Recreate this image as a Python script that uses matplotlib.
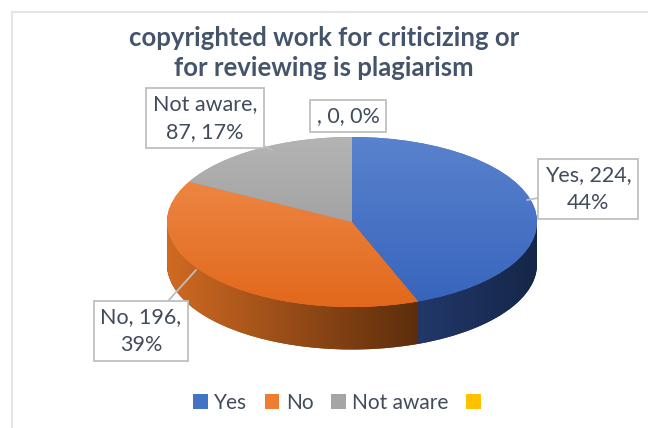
import matplotlib
matplotlib.use("Agg")
import matplotlib.pyplot as plt
import numpy as np
from matplotlib.patches import Patch, Polygon, Rectangle
from matplotlib.colors import to_rgb

# data
categories = ["Yes", "No", "Not aware", ""]
counts = [224, 196, 87, 0]
top_colors = ["#4472C4", "#ED7D31", "#A5A5A5", "#FFC000"]
side_colors = ["#1A2E57", "#8A4414", "#6E6E6E", "#A07800"]
title = "copyrighted work for criticizing or\nfor reviewing is plagiarism"

plt.rcParams['font.family'] = ['Lato', 'DejaVu Sans']
text_col = "#404B5C"

fig = plt.figure(figsize=(6.48, 4.28), dpi=100)
ax = fig.add_axes([0, 0, 1, 1])

# pie geometry (pixels): centre x=352, y=222 from top, rx=185, ry=85
px_x, px_y = 185.0, 85.0
depth = 0.5
n_layers = 40

# side layers
for k in range(n_layers, 0, -1):
    off = -depth * k / n_layers
    ax.pie(counts, colors=side_colors, startangle=90, counterclock=False,
           center=(0, off), radius=1, wedgeprops=dict(linewidth=0))

# side gradient overlays (front visible part only)
total = sum(counts)
angles = [90.0]
for c in counts:
    angles.append(angles[-1] - 360.0 * c / total)

side_grad = {0: ("#22386A", "#152648"), 1: ("#D06A22", "#5C2D0C")}
for i, (c0, c1) in side_grad.items():
    a0, a1 = angles[i], angles[i + 1]
    lo, hi = max(min(a0, a1), -180.0), min(max(a0, a1), 0.0)
    if hi <= lo:
        continue
    t = np.radians(np.linspace(lo, hi, 80))
    top = np.column_stack([np.cos(t), np.sin(t)])
    bot = np.column_stack([np.cos(t[::-1]), np.sin(t[::-1]) - depth])
    poly = Polygon(np.vstack([top, bot]), closed=True, transform=ax.transData,
                   facecolor="none", edgecolor="none")
    ax.add_patch(poly)
    x0, x1 = np.cos(t).min(), np.cos(t).max()
    grad = np.linspace(0, 1, 256)
    rgb = (np.outer(1 - grad, to_rgb(c0)) + np.outer(grad, to_rgb(c1)))[None, :, :]
    im = ax.imshow(rgb, extent=(x0, x1, -1 - depth, 0.1), aspect="auto", zorder=2)
    im.set_clip_path(poly)

# top face
wedges, _ = ax.pie(counts, colors=top_colors, startangle=90, counterclock=False,
                   center=(0, 0), radius=1, wedgeprops=dict(linewidth=0))
top_grad = [("#5A82CE", "#3764BC"), ("#F09050", "#E2681C"), ("#B4B4B4", "#939393"),
            ("#FFC000", "#FFC000")]
for w, (c0, c1) in zip(wedges, top_grad):
    w.set_zorder(3)
    grad = np.linspace(0, 1, 256)
    rgb = (np.outer(1 - grad, to_rgb(c0)) + np.outer(grad, to_rgb(c1)))[:, None, :]
    im = ax.imshow(rgb, extent=(-1, 1, -1, 1), aspect="auto", zorder=4)
    im.set_clip_path(w)

ax.set_aspect("auto")
ax.set_xlim(-352 / px_x, (648 - 352) / px_x)
ax.set_ylim(-(428 - 222) / px_y, 222 / px_y)
ax.axis("off")

# data labels (positions in pixel layout terms)
def to_data(x, y):
    return ((x - 352) / px_x, (222 - y) / px_y)

label_pos = [(588, 189), (141, 331), (205, 118), (348, 116)]
tail_to = [(527, 200), (196, 270), (272, 150), (352, 137)]
for i, (cat, c) in enumerate(zip(categories, counts)):
    pct = round(100 * c / total)
    if cat:
        txt = f"{cat}, {c},\n{pct}%" if len(cat) < 5 else f"{cat},\n{c}, {pct}%"
    else:
        txt = f", {c}, {pct}%"
    ax.annotate(txt, xy=to_data(*tail_to[i]), xytext=to_data(*label_pos[i]),
                ha="center", va="center", fontsize=15.5, color=text_col,
                linespacing=1.45, zorder=6,
                bbox=dict(boxstyle="square,pad=0.3", fc="white", ec="#BFBFBF", lw=1.3),
                arrowprops=dict(arrowstyle="-", color="#BFBFBF", lw=1.3,
                                shrinkA=0, shrinkB=0) if cat else None)

fig.text(0.5, 1 - 53 / 428, title, ha="center", va="center", fontsize=18.5,
         fontweight="bold", color="#44546A", linespacing=1.25)

handles = [Patch(facecolor=col, edgecolor="none") for col in top_colors]
fig.legend(handles, categories, loc="center", bbox_to_anchor=(340 / 648, 1 - 403 / 428),
           ncol=4, frameon=False, fontsize=15, handlelength=0.7, handleheight=0.7,
           handletextpad=0.3, columnspacing=0.85, labelcolor=text_col)

fig.patches.append(Rectangle((12 / 648, -0.1), 1.2, 1 - 12 / 428 + 0.1,
                             transform=fig.transFigure, fill=False,
                             edgecolor="#E3E6EB", lw=1.5))

fig.savefig("out.png", dpi=100)
